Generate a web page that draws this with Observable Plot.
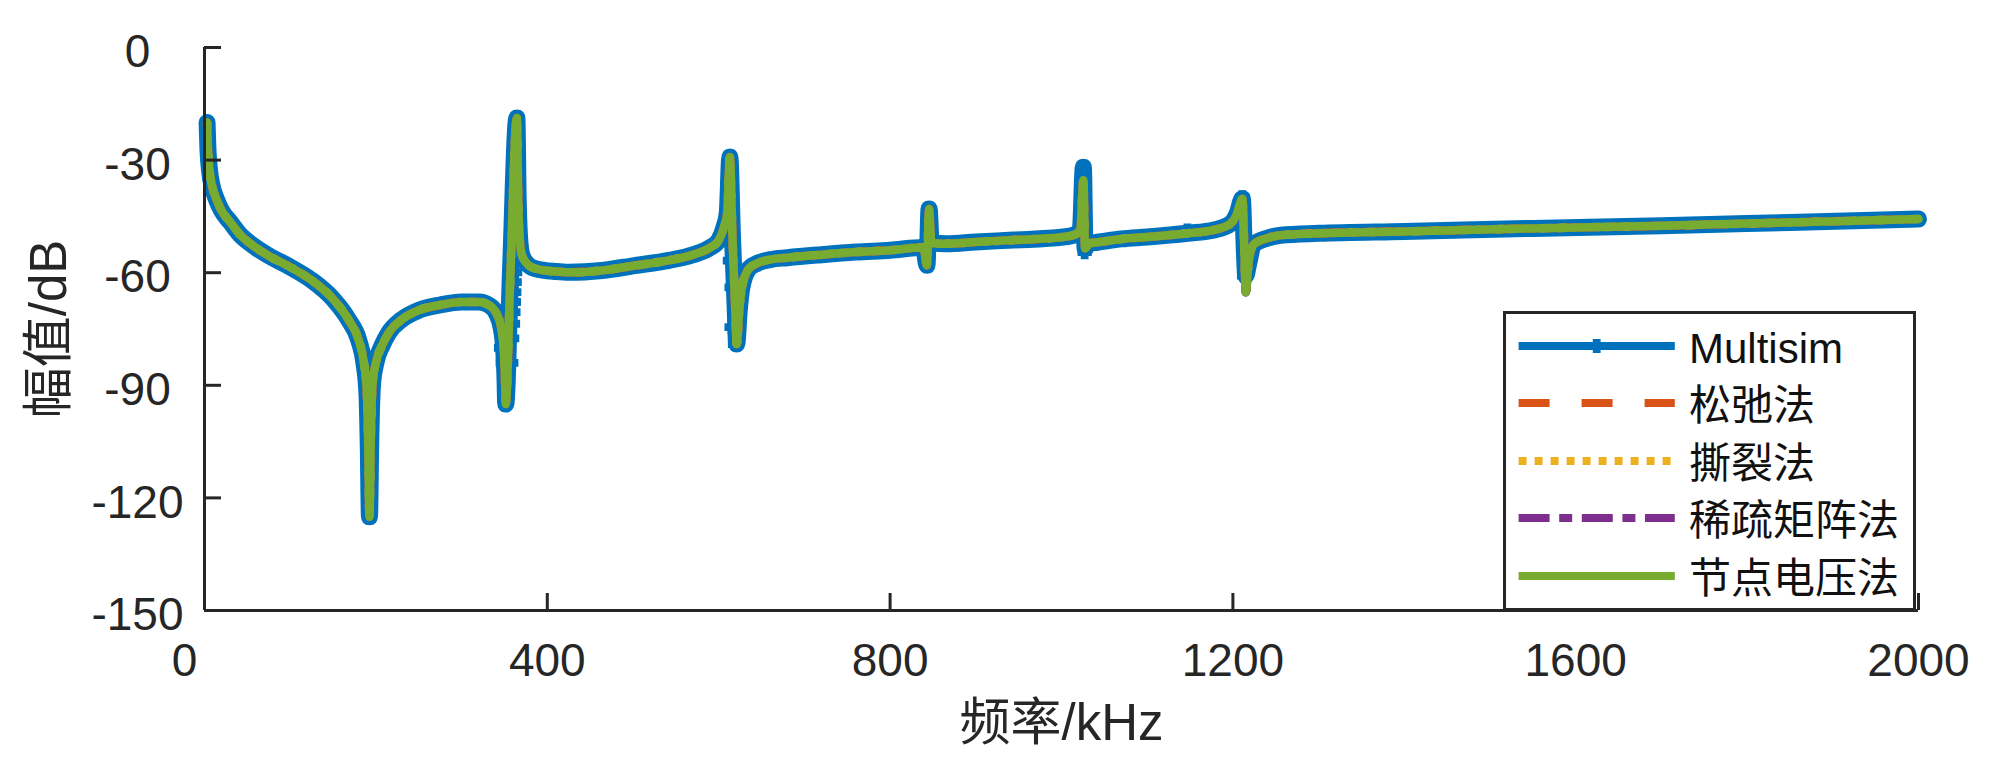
<!DOCTYPE html>
<html>
<head>
<meta charset="utf-8">
<script src="https://cdn.jsdelivr.net/npm/d3@7"></script>
<script src="https://cdn.jsdelivr.net/npm/@observablehq/plot@0.6"></script>
<style>
  html, body { margin: 0; padding: 0; background: #fff; }
  #wrap { position: relative; width: 2000px; height: 778px; overflow: hidden; }
  #legend { position: absolute; left: 1503px; top: 311px; }
</style>
</head>
<body>
<div id="wrap"></div>
<script>
// ---------------- data ----------------
const freqKHz = [
  3, 4, 6, 9, 14, 20, 30, 42, 55, 75, 100, 125, 150, 168, 180, 186, 189.5, 191, 192.5,
  194, 196, 200, 207, 215, 230, 250, 275, 300, 320, 333, 341, 346, 349, 350.5, 351.5,
  357, 364.5, 366, 367.5, 370, 376, 386, 410, 425, 464, 502, 542, 570, 590, 600, 606,
  610, 613, 616, 619, 621, 624, 627, 635, 645, 660, 680, 720, 760, 800, 839, 843,
  845.5, 848, 866, 900, 944, 1002, 1015, 1022, 1025.5, 1027.5, 1032, 1042, 1070, 1100,
  1147, 1178, 1197, 1205, 1211, 1213.5, 1215, 1218, 1224, 1240, 1256, 1300, 1400, 1550,
  1700, 1850, 2000
];
const nodalDb = [
  -20, -27, -33, -37, -40.5, -43.5, -46.5, -50, -52.5, -55.5, -58.5, -62, -67, -72.5, -78, -84, -92, -105, -125,
  -105, -90, -84, -79.5, -76, -72.5, -70, -68.6, -67.8, -67.8, -68.8, -71, -74.5, -80, -87, -95,
  -60, -18.8, -40, -50, -55, -57.5, -58.9, -59.7, -59.9, -59.4, -58.1, -56.7, -55.2, -53.3, -51.4, -48,
  -44, -29.2, -50, -68, -79, -70, -64, -59, -57.5, -56.5, -56, -55.2, -54.5, -54, -53.3, -58,
  -43, -52, -52.3, -51.8, -51.3, -50.5, -49.9, -48.5, -35.4, -53.5, -52.2, -51.9, -51, -50.5,
  -49.5, -48.6, -47, -44.2, -40.3, -55, -65.2, -58, -52.5, -50.8, -50, -49.5, -49, -48.2,
  -47.5, -46.6, -45.7
];
const multisimDb = [
  -20, -27, -33, -37, -40.5, -43.5, -46.5, -50, -52.5, -55.5, -58.5, -62, -67, -72.5, -78, -84, -92, -105, -125,
  -105, -90, -84, -79.5, -76, -72.5, -70, -68.6, -67.8, -67.8, -68.8, -71, -74.5, -80, -87, -95,
  -60, -18.8, -40, -50, -55, -57.5, -58.9, -59.7, -59.9, -59.4, -58.1, -56.7, -55.2, -53.3, -51.4, -48,
  -44, -29.2, -50, -68, -79, -70, -64, -59, -57.5, -56.5, -56, -55.2, -54.5, -54, -53.3, -58,
  -43, -52, -52.3, -51.8, -51.3, -50.5, -49.9, -48.5, -31.9, -53.5, -52.2, -51.9, -51, -50.5,
  -49.5, -48.6, -47, -44.2, -40.3, -55, -60.8, -58, -52.5, -50.8, -50, -49.5, -49, -48.2,
  -47.5, -46.6, -45.7
];
const relaxDb = nodalDb;     // 松弛法
const tearingDb = nodalDb;   // 撕裂法
const sparseDb = nodalDb;    // 稀疏矩阵法

// visible Multisim markers
const markKHz = [
  3, 192, 192, 192, 192.5, 192.5, 192.5,
  346, 348, 350, 351, 358, 359, 360, 360.5, 361, 361.5, 362, 362.5, 363, 363, 363.5, 364, 364.5,
  611, 613, 614, 616, 613, 615, 618, 615, 619,
  761, 843, 845, 1025.5, 1027, 1147, 1211, 1213, 1213, 1665, 2000
];
const markDb = [
  -20, -103, -106, -109, -111.4, -116, -125.2,
  -80, -84, -91.8, -95, -84, -77.5, -73.6, -70.5, -67.8, -65.2, -62.5, -59.9, -57, -51.4, -46.1, -40, -19,
  -42, -29.2, -40.2, -49.6, -56.8, -63.9, -69.6, -74.5, -79,
  -54.5, -58, -43, -31.9, -54.5, -48.8, -39.9, -56, -60.8, -47.8, -45.7
];

const xTicks = [0, 400, 800, 1200, 1600, 2000];
const yTicks = [0, -30, -60, -90, -120, -150];

const seriesNames = ["Multisim", "松弛法", "撕裂法", "稀疏矩阵法", "节点电压法"];
const seriesColors = ["#0072BD", "#D95319", "#EDB120", "#7E2F8E", "#77AC30"];
const seriesDash = [null, "31,32", "8,8", "31,9.6,13,9.6", null];

const xTitle = "频率/kHz";
const yTitle = "幅值/dB";

// ---------------- helpers ----------------
const rows = (vals) => freqKHz.map((f, i) => ({f, db: vals[i]}));
const marks = markKHz.map((f, i) => ({f, db: markDb[i]}));
const plusSymbol = {
  draw(ctx, size) {
    const h = Math.sqrt(size) / 2, a = h * 0.55;
    ctx.moveTo(-a, -h); ctx.lineTo(a, -h); ctx.lineTo(a, -a); ctx.lineTo(h, -a);
    ctx.lineTo(h, a); ctx.lineTo(a, a); ctx.lineTo(a, h); ctx.lineTo(-a, h);
    ctx.lineTo(-a, a); ctx.lineTo(-h, a); ctx.lineTo(-h, -a); ctx.lineTo(-a, -a);
    ctx.closePath();
  }
};
const FONT = '"Liberation Sans", Arial, "Noto Sans CJK SC", sans-serif';
const AX = "#262626";
const methodLine = (vals, k) => Plot.line(rows(vals), {
  x: "f", y: "db", stroke: seriesColors[k], strokeWidth: 8.5,
  strokeDasharray: seriesDash[k], curve: "monotone-x", strokeLinejoin: "round"
});

const chart = Plot.plot({
  width: 2000, height: 778,
  marginLeft: 204, marginRight: 82, marginTop: 47, marginBottom: 168,
  style: {fontFamily: FONT, color: AX, background: "#fff", overflow: "visible"},
  x: {domain: [0, 2000], axis: null},
  y: {domain: [-150, 0], axis: null},
  marks: [
    // Multisim
    Plot.line(rows(multisimDb), {x: "f", y: "db", stroke: seriesColors[0], strokeWidth: 17,
      curve: "monotone-x", strokeLinejoin: "round"}),
    Plot.dot(marks, {x: "f", y: "db", symbol: plusSymbol, r: 8, fill: seriesColors[0], stroke: "none"}),
    methodLine(relaxDb, 1),
    methodLine(tearingDb, 2),
    methodLine(sparseDb, 3),
    methodLine(nodalDb, 4),
    // axes lines
    Plot.ruleX([0], {stroke: AX, strokeWidth: 3}),
    Plot.ruleY([-150], {stroke: AX, strokeWidth: 3}),
    // inward ticks
    Plot.axisY({ticks: yTicks, tickSize: 17, dx: 17, tickFormat: () => "", label: null, stroke: AX, strokeWidth: 3}),
    Plot.axisX({ticks: xTicks, tickSize: 17, dy: -17, tickFormat: () => "", label: null, stroke: AX, strokeWidth: 3}),
    // tick labels
    Plot.axisY({ticks: yTicks, tickSize: 0, tickPadding: 67, textAnchor: "middle", dy: 5,
      fontSize: 46, tickFormat: (d) => String(d), label: null, fill: AX}),
    Plot.axisX({ticks: xTicks.filter((d) => d !== 0), tickSize: 0, tickPadding: 33,
      fontSize: 46, tickFormat: (d) => String(d), label: null, fill: AX}),
    Plot.axisX({ticks: [0], tickSize: 0, tickPadding: 33, dx: -20,
      fontSize: 46, tickFormat: (d) => String(d), label: null, fill: AX}),
    // axis titles
    Plot.text([xTitle], {text: (d) => d, frameAnchor: "bottom", dy: 113, fontSize: 51,
      lineAnchor: "middle", fill: AX}),
    Plot.text([yTitle], {text: (d) => d, frameAnchor: "left", dx: -155, rotate: -90, fontSize: 51,
      lineAnchor: "middle", textAnchor: "middle", fill: AX})
  ]
});

const wrap = document.getElementById("wrap");
wrap.appendChild(chart);

// ---------------- legend ----------------
const LW = 413, LH = 300;
const ns = "http://www.w3.org/2000/svg";
const lg = document.createElementNS(ns, "svg");
lg.setAttribute("id", "legend");
lg.setAttribute("width", LW);
lg.setAttribute("height", LH);
const sel = d3.select(lg);
sel.append("rect").attr("x", 1.5).attr("y", 1.5).attr("width", LW - 3).attr("height", LH - 3)
  .attr("fill", "#fff").attr("stroke", AX).attr("stroke-width", 3);
const rowY = [35, 92, 150, 207, 265];
seriesNames.forEach((name, i) => {
  const y = rowY[i];
  const ln = sel.append("line").attr("x1", 15.6).attr("x2", 171.8).attr("y1", y).attr("y2", y)
    .attr("stroke", seriesColors[i]).attr("stroke-width", 8);
  if (seriesDash[i]) ln.attr("stroke-dasharray", seriesDash[i]);
  if (i === 0) {
    sel.append("path").attr("d", d3.symbol(plusSymbol, 8 * 8 * Math.PI)())
      .attr("transform", `translate(${(15.6 + 171.8) / 2},${y})`).attr("fill", seriesColors[0]);
  }
  sel.append("text").attr("x", 186).attr("y", y + 2).attr("dominant-baseline", "central")
    .attr("font-family", FONT).attr("font-size", 42).attr("fill", "#111").text(name);
});
wrap.appendChild(lg);
</script>
</body>
</html>
